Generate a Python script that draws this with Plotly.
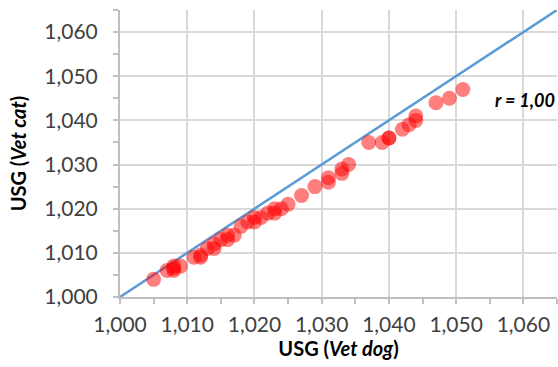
import plotly.graph_objects as go

# USG measured with two refractometers
usg_dog = [1.005, 1.007, 1.008, 1.008, 1.008, 1.009, 1.011, 1.012, 1.012, 1.013, 1.014, 1.014,
           1.015, 1.016, 1.016, 1.017, 1.018, 1.019, 1.020, 1.020, 1.021, 1.022, 1.023, 1.023,
           1.024, 1.025, 1.027, 1.029, 1.031, 1.031, 1.033, 1.033, 1.034, 1.037, 1.039, 1.040,
           1.040, 1.042, 1.043, 1.044, 1.044, 1.047, 1.049, 1.051]
usg_cat = [1.004, 1.006, 1.006, 1.0065, 1.007, 1.007, 1.009, 1.009, 1.0095, 1.011, 1.011, 1.012,
           1.013, 1.013, 1.014, 1.014, 1.016, 1.017, 1.017, 1.018, 1.018, 1.019, 1.019, 1.020,
           1.020, 1.021, 1.023, 1.025, 1.026, 1.027, 1.028, 1.029, 1.030, 1.035, 1.035, 1.036,
           1.036, 1.038, 1.039, 1.040, 1.041, 1.044, 1.045, 1.047]
identity_line = [1.000, 1.065]
tick_vals = [1.000, 1.010, 1.020, 1.030, 1.040, 1.050, 1.060]
tick_text = ["1,000", "1,010", "1,020", "1,030", "1,040", "1,050", "1,060"]

FONT = "Lato, Open Sans, sans-serif"

fig = go.Figure()
fig.add_trace(go.Scatter(x=identity_line, y=identity_line, mode="lines",
                         line=dict(color="#5b9bd5", width=2.5), hoverinfo="skip"))
fig.add_trace(go.Scatter(x=usg_dog, y=usg_cat, mode="markers",
                         marker=dict(color="rgba(255,0,0,0.5)", size=15, line=dict(width=0))))

axis_common = dict(
    range=[1.000, 1.065], tickvals=tick_vals, ticktext=tick_text,
    showgrid=True, gridcolor="#d9d9d9", gridwidth=1.5,
    showline=True, linecolor="#bfbfbf", linewidth=2,
    ticks="outside", ticklen=5, tickcolor="#bfbfbf", tickwidth=1.5,
    minor=dict(dtick=0.005, tick0=1.0, ticks="outside", ticklen=5, tickcolor="#bfbfbf",
               tickwidth=1.5, showgrid=False),
    tickfont=dict(family=FONT, size=21, color="#404040"),
    zeroline=False,
)

fig.update_layout(
    width=558, height=367,
    margin=dict(l=120, r=1, t=10, b=70),
    plot_bgcolor="white", paper_bgcolor="white",
    showlegend=False,
    xaxis=dict(**axis_common, ticklabelstandoff=3,
               title=dict(text="<b>USG (<i>Vet dog</i>)</b>", standoff=6,
                          font=dict(family=FONT, size=20, color="black"))),
    yaxis=dict(**axis_common, ticklabelstandoff=11,
               title=dict(text="<b>USG (<i>Vet cat</i>)</b>", standoff=12,
                          font=dict(family=FONT, size=20, color="black"))),
    annotations=[dict(x=1.0602, y=1.0446, xref="x", yref="y", showarrow=False,
                      text="<b><i>r = 1,00</i></b>",
                      font=dict(family=FONT, size=18, color="black"))],
)

fig.write_html("out.html")
